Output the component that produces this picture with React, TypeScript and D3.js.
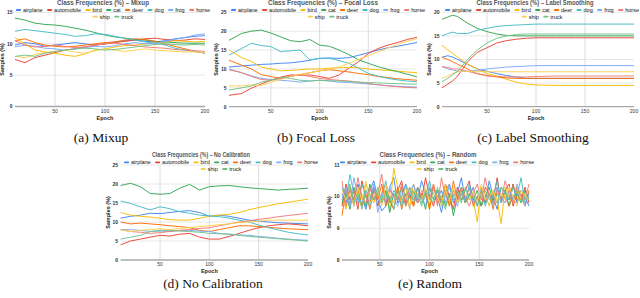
import React from "react";
import * as d3 from "d3";

const CLASSES = ["airplane", "automobile", "bird", "cat", "deer", "dog", "frog", "horse", "ship", "truck"];
const COLORS = ["#4285F4", "#EA4335", "#FBBC04", "#34A853", "#FF6D01", "#46BDC6", "#7BAAF7", "#F07B72", "#FCD04F", "#71C287"];
const X_TICKS = [50, 100, 150, 200];

// Mixup
const EPOCHS_MIXUP = [10, 20, 30, 40, 50, 60, 70, 80, 90, 100, 110, 120, 130, 140, 150, 160, 170, 180, 190, 200];
const MIXUP = [
  [9.8, 10.2, 10.0, 9.6, 9.8, 10.0, 10.2, 10.0, 9.8, 10.0, 10.3, 10.5, 10.6, 10.4, 10.3, 10.5, 10.8, 11.0, 11.2, 11.3],
  [7.5, 7.0, 7.8, 8.2, 8.6, 9.0, 9.2, 9.5, 9.8, 10.0, 10.2, 10.4, 10.6, 10.8, 10.9, 10.7, 10.5, 10.6, 10.8, 10.7],
  [11.0, 10.0, 9.0, 8.7, 8.5, 8.2, 8.0, 8.4, 9.0, 9.2, 9.5, 9.7, 9.8, 10.0, 10.2, 10.3, 10.5, 10.4, 10.3, 10.4],
  [14.1, 13.8, 13.3, 13.1, 13.0, 12.8, 12.5, 12.2, 11.8, 11.4, 11.1, 10.9, 10.7, 10.6, 10.4, 10.3, 10.2, 10.1, 10.1, 10.1],
  [10.5, 10.8, 10.2, 9.8, 9.6, 9.5, 9.6, 9.8, 10.0, 10.2, 10.3, 10.6, 10.8, 10.7, 10.4, 10.0, 9.6, 9.2, 8.8, 8.5],
  [12.0, 12.3, 12.1, 11.9, 11.7, 11.5, 11.2, 11.3, 11.6, 11.5, 11.2, 10.9, 10.6, 10.3, 10.1, 9.8, 9.3, 9.0, 8.8, 8.5],
  [9.5, 9.8, 9.6, 9.3, 9.2, 9.0, 9.2, 9.4, 9.6, 9.5, 9.7, 10.0, 10.2, 10.0, 10.1, 10.4, 10.7, 11.0, 11.4, 11.6],
  [10.5, 9.8, 9.5, 9.6, 9.8, 9.6, 9.4, 9.5, 9.8, 10.0, 10.1, 9.9, 9.7, 9.5, 9.4, 9.3, 9.1, 9.0, 8.9, 8.8],
  [8.0, 7.8, 8.3, 8.6, 8.8, 9.0, 8.7, 8.5, 8.9, 9.2, 9.0, 8.8, 9.0, 9.2, 9.0, 8.9, 8.8, 8.7, 8.7, 8.6],
  [8.0, 8.2, 8.0, 8.5, 8.8, 9.0, 9.2, 9.3, 9.2, 9.0, 9.1, 9.3, 9.5, 9.7, 9.9, 10.0, 9.9, 9.8, 9.9, 9.8],
];

// Focal Loss
const EPOCHS_FOCAL = [7, 20, 30, 40, 50, 60, 70, 80, 90, 100, 110, 120, 130, 140, 150, 160, 170, 180, 190, 200];
const FOCAL = [
  [10.5, 10.8, 11.0, 11.2, 11.3, 11.5, 11.6, 11.9, 12.3, 12.8, 12.9, 12.8, 13.0, 13.6, 14.3, 15.0, 15.6, 16.0, 16.5, 17.0],
  [3.0, 3.5, 4.9, 6.0, 7.0, 7.8, 8.4, 8.3, 8.4, 8.0, 7.5, 8.4, 10.2, 11.9, 14.1, 15.4, 16.3, 17.0, 17.8, 18.4],
  [15.0, 13.0, 12.0, 10.5, 10.0, 9.5, 9.6, 9.8, 10.0, 10.0, 10.2, 10.3, 10.4, 10.3, 10.0, 9.8, 9.6, 9.4, 9.2, 9.0],
  [17.6, 19.4, 20.0, 20.3, 19.5, 18.5, 17.5, 17.2, 17.8, 16.3, 16.0, 15.0, 13.8, 12.4, 11.5, 10.6, 9.9, 9.3, 8.6, 7.9],
  [12.3, 11.0, 10.0, 8.5, 8.0, 7.5, 8.0, 8.5, 9.0, 9.5, 9.8, 9.5, 9.2, 8.8, 8.5, 8.0, 7.7, 7.4, 7.2, 7.0],
  [13.7, 15.4, 16.8, 16.2, 15.9, 14.6, 14.8, 15.0, 12.4, 12.8, 12.8, 12.2, 11.5, 10.2, 8.8, 8.1, 7.5, 7.1, 6.8, 6.6],
  [10.0, 9.0, 8.2, 7.5, 7.2, 7.0, 6.8, 6.5, 6.8, 7.0, 6.8, 6.5, 6.4, 6.2, 6.0, 5.8, 5.6, 5.4, 5.3, 5.2],
  [9.8, 9.0, 8.0, 7.2, 7.0, 7.5, 8.0, 8.5, 8.0, 7.5, 7.2, 7.0, 6.8, 6.5, 6.2, 5.8, 5.5, 5.3, 5.1, 5.0],
  [5.5, 5.5, 5.8, 5.6, 6.5, 7.2, 8.0, 8.5, 9.0, 9.5, 10.0, 10.5, 11.5, 12.5, 13.5, 14.5, 15.5, 16.5, 17.3, 18.0],
  [4.4, 5.0, 5.5, 6.5, 7.0, 7.8, 7.5, 7.0, 6.8, 7.0, 6.9, 6.8, 6.7, 6.5, 6.4, 6.3, 6.2, 6.1, 6.0, 6.0],
];

// Label Smoothing
const EPOCHS_SMOOTH = [4, 10, 15, 20, 30, 40, 50, 60, 70, 80, 90, 100, 120, 140, 160, 180, 200];
const SMOOTH = [
  [10.5, 10.8, 10.5, 10.0, 9.0, 8.0, 7.5, 7.0, 6.6, 6.3, 6.0, 6.0, 6.0, 6.0, 6.0, 6.0, 6.0],
  [4.0, 4.8, 5.5, 6.5, 9.5, 11.5, 12.5, 13.5, 14.0, 14.3, 14.5, 14.6, 14.6, 14.6, 14.6, 14.6, 14.6],
  [13.0, 12.0, 11.3, 10.5, 9.0, 8.0, 7.0, 6.5, 5.8, 5.2, 4.8, 4.6, 4.5, 4.5, 4.5, 4.5, 4.5],
  [18.5, 19.0, 19.4, 19.1, 17.7, 16.6, 15.9, 15.4, 15.1, 15.0, 15.0, 15.0, 15.0, 15.0, 15.0, 15.0, 15.0],
  [10.5, 10.0, 9.5, 9.0, 8.0, 7.0, 6.6, 6.3, 6.1, 6.0, 6.0, 6.0, 6.0, 6.0, 6.0, 6.0, 6.0],
  [15.0, 15.5, 15.8, 15.5, 15.5, 16.2, 16.6, 17.0, 17.2, 17.3, 17.4, 17.5, 17.5, 17.5, 17.5, 17.5, 17.5],
  [8.5, 8.0, 7.8, 7.5, 7.5, 7.7, 8.0, 8.2, 8.4, 8.5, 8.6, 8.7, 8.7, 8.7, 8.7, 8.7, 8.7],
  [8.5, 8.3, 8.0, 8.0, 7.5, 7.0, 6.5, 6.4, 6.3, 6.3, 6.3, 6.4, 6.5, 6.5, 6.5, 6.5, 6.5],
  [6.0, 6.5, 7.0, 7.5, 7.5, 7.5, 7.4, 7.4, 7.4, 7.4, 7.4, 7.4, 7.4, 7.4, 7.4, 7.4, 7.4],
  [5.3, 6.0, 6.8, 7.5, 10.0, 12.0, 13.5, 14.5, 15.0, 15.3, 15.4, 15.4, 15.4, 15.4, 15.4, 15.4, 15.4],
];

// No Calibration
const EPOCHS_NOCAL = [10, 20, 30, 40, 50, 60, 70, 80, 90, 100, 110, 120, 130, 140, 150, 160, 170, 180, 190, 200];
const NOCAL = [
  [11.0, 11.5, 11.8, 12.3, 12.2, 12.5, 12.8, 13.0, 12.5, 11.5, 11.8, 11.5, 11.0, 10.5, 10.2, 10.0, 9.8, 9.7, 9.6, 9.5],
  [4.0, 5.0, 5.5, 6.0, 6.5, 6.3, 6.8, 7.0, 6.0, 5.5, 5.5, 6.2, 7.0, 7.8, 8.5, 9.0, 9.3, 9.5, 9.3, 9.0],
  [12.5, 11.8, 11.5, 11.3, 11.0, 10.6, 10.5, 10.5, 11.0, 11.5, 11.8, 12.0, 12.5, 13.2, 13.8, 14.3, 14.8, 15.2, 15.6, 16.0],
  [19.6, 20.2, 19.3, 17.5, 17.3, 17.5, 18.9, 19.9, 18.4, 19.3, 19.5, 19.6, 19.3, 19.0, 18.8, 18.6, 18.4, 18.6, 18.7, 18.9],
  [10.0, 9.5, 9.7, 9.5, 9.3, 9.0, 8.8, 8.5, 7.8, 7.5, 8.0, 8.5, 9.0, 9.0, 8.8, 8.6, 8.4, 8.2, 8.1, 8.0],
  [15.5, 14.9, 14.0, 13.2, 14.0, 13.5, 12.7, 12.3, 11.8, 11.6, 11.4, 11.0, 10.5, 10.0, 9.2, 8.5, 7.9, 7.3, 6.9, 6.6],
  [8.0, 8.0, 7.8, 7.5, 7.6, 7.5, 7.8, 7.8, 7.6, 7.5, 7.0, 6.8, 6.6, 6.5, 6.2, 6.0, 5.7, 5.5, 5.3, 5.2],
  [8.0, 7.5, 7.3, 7.0, 7.2, 7.5, 7.8, 8.0, 8.3, 8.5, 9.0, 9.5, 10.0, 10.3, 10.7, 11.0, 11.4, 11.7, 12.0, 12.3],
  [8.0, 7.5, 7.8, 8.0, 8.2, 8.0, 8.3, 8.5, 8.8, 9.0, 9.3, 9.5, 9.8, 10.0, 10.2, 10.5, 10.5, 10.5, 10.5, 10.5],
  [5.5, 6.0, 6.5, 7.5, 7.8, 7.8, 7.6, 7.5, 7.3, 7.0, 6.9, 6.8, 6.5, 6.2, 6.0, 5.8, 5.6, 5.4, 5.2, 5.0],
];

// Random
const EPOCHS_RANDOM = [12, 16, 20, 24, 28, 32, 36, 40, 44, 48, 52, 56, 60, 64, 68, 72, 76, 80, 84, 88, 92, 96, 100, 104, 108, 112, 116, 120, 124, 128, 132, 136, 140, 144, 148, 152, 156, 160, 164, 168, 172, 176, 180, 184, 188, 192, 196, 200];
const RANDOM = [
  [10.1, 9.8, 10.3, 9.7, 10.4, 10.0, 9.6, 10.2, 10.5, 9.9, 9.55, 9.7, 10.3, 10.6, 9.8, 10.0, 10.4, 9.6, 10.2, 9.9, 10.5, 10.1, 9.7, 10.3, 10.0, 9.5, 10.2, 10.4, 9.8, 10.1, 10.6, 9.9, 10.0, 10.3, 9.7, 10.2, 9.8, 10.5, 10.0, 9.6, 10.3, 10.1, 9.9, 10.4, 9.8, 10.2, 10.0, 9.7],
  [9.7, 10.4, 9.9, 10.2, 9.6, 10.5, 10.0, 9.8, 10.3, 9.7, 10.1, 10.4, 9.9, 9.6, 10.2, 10.5, 9.8, 10.1, 9.7, 10.3, 9.9, 10.6, 10.0, 9.7, 10.2, 9.8, 10.4, 10.0, 9.6, 10.3, 9.9, 10.2, 10.5, 9.8, 10.0, 9.7, 10.3, 10.1, 9.9, 10.6, 9.8, 10.2, 10.4, 9.7, 10.1, 9.9, 10.3, 9.8],
  [10.0, 9.6, 10.3, 9.9, 10.2, 9.7, 10.4, 10.1, 9.8, 10.2, 9.9, 10.2, 9.6, 10.9, 10.3, 9.8, 10.1, 9.7, 10.4, 10.0, 9.9, 10.2, 9.6, 10.3, 10.0, 9.8, 10.4, 9.7, 10.1, 9.9, 10.2, 9.8, 10.0, 9.9, 9.2, 10.3, 10.1, 9.7, 10.2, 9.9, 9.15, 10.3, 10.0, 9.8, 10.2, 9.9, 10.1, 10.0],
  [9.8, 10.1, 9.6, 10.3, 9.9, 10.0, 9.7, 10.4, 9.9, 10.1, 9.8, 10.2, 9.5, 10.1, 9.9, 10.3, 9.7, 10.0, 10.2, 9.8, 10.1, 9.6, 10.3, 9.9, 10.0, 10.2, 9.7, 10.1, 9.4, 10.0, 10.3, 9.8, 10.1, 9.9, 10.2, 9.7, 10.0, 10.3, 9.8, 10.1, 9.9, 10.2, 9.7, 10.0, 10.1, 9.8, 10.2, 9.9],
  [9.4, 10.2, 9.8, 10.0, 10.3, 9.7, 10.1, 9.6, 10.2, 9.9, 10.4, 9.7, 10.0, 9.8, 10.3, 9.6, 10.1, 10.0, 9.7, 10.3, 9.9, 10.1, 9.6, 10.4, 9.8, 10.0, 10.2, 9.7, 10.5, 9.9, 10.1, 9.8, 10.3, 9.7, 10.0, 10.2, 9.8, 10.1, 9.6, 10.3, 9.9, 10.0, 9.7, 10.4, 9.9, 10.1, 9.7, 10.2],
  [10.3, 9.9, 10.7, 10.1, 9.8, 10.4, 10.0, 9.7, 10.3, 10.1, 9.9, 10.5, 9.8, 10.2, 10.0, 9.7, 10.4, 10.1, 9.9, 10.3, 9.8, 10.0, 10.5, 9.9, 10.2, 9.7, 10.1, 10.3, 9.9, 10.0, 10.2, 9.8, 10.4, 10.0, 9.9, 10.3, 9.7, 10.1, 10.0, 10.5, 9.8, 10.2, 9.9, 10.3, 10.0, 10.6, 9.8, 10.1],
  [9.9, 10.3, 9.7, 10.6, 10.0, 9.8, 10.2, 9.9, 10.4, 9.5, 10.1, 9.8, 10.3, 10.0, 9.7, 10.2, 9.9, 10.1, 10.4, 9.8, 10.0, 9.7, 10.3, 10.1, 9.9, 10.2, 9.8, 10.4, 10.0, 9.7, 10.1, 9.9, 10.3, 9.8, 10.0, 10.2, 9.9, 10.1, 9.7, 10.3, 10.0, 9.8, 10.2, 9.9, 10.4, 10.0, 9.7, 10.1],
  [10.5, 9.7, 10.2, 9.9, 10.6, 10.0, 9.8, 10.3, 9.9, 10.1, 10.7, 9.8, 10.2, 10.0, 9.9, 10.4, 9.7, 10.3, 10.0, 9.8, 10.2, 10.1, 9.9, 10.4, 9.7, 10.6, 10.0, 9.9, 10.2, 9.8, 10.3, 10.0, 9.7, 10.1, 10.4, 9.9, 10.6, 10.0, 9.8, 10.2, 9.9, 10.5, 10.1, 9.8, 10.3, 10.0, 9.9, 10.4],
  [10.2, 9.9, 10.1, 9.7, 10.3, 9.9, 10.5, 9.8, 10.0, 10.2, 9.7, 10.4, 10.0, 9.8, 10.1, 9.9, 10.3, 9.6, 10.2, 10.0, 9.9, 10.3, 9.8, 10.1, 10.0, 9.7, 10.2, 9.9, 10.3, 9.8, 10.0, 10.1, 9.9, 10.2, 9.8, 10.4, 9.9, 10.0, 10.2, 9.8, 10.1, 9.9, 10.3, 10.0, 9.7, 10.2, 10.0, 9.9],
  [9.9, 10.0, 10.4, 9.8, 10.1, 9.6, 10.2, 10.0, 9.9, 10.3, 9.8, 10.1, 10.0, 9.6, 10.2, 9.9, 10.0, 10.3, 9.8, 10.1, 9.7, 10.2, 10.0, 9.8, 10.3, 9.9, 9.6, 10.1, 10.0, 10.2, 9.8, 10.3, 9.9, 10.0, 9.7, 10.1, 10.2, 9.9, 10.0, 9.8, 10.3, 10.1, 9.9, 10.0, 10.2, 9.8, 10.0, 10.1],
];

const PANELS = [
  { title: "Class Frequencies (%) \u2013 Mixup", caption: "(a) Mixup", epochs: EPOCHS_MIXUP, data: MIXUP, yTicks: [0, 5, 10, 15],
    x0: 15, x1: 205, yb: 106.5, yt: 12.5, titleCx: 103, titleY: 2.2, titleW: 92, legCx: 113, legY: 10, capCx: 101, capY: 142 },
  { title: "Class Frequencies (%) \u2013 Focal Loss", caption: "(b) Focal Loss", epochs: EPOCHS_FOCAL, data: FOCAL, yTicks: [0, 5, 10, 15, 20, 25],
    x0: 229, x1: 417, yb: 106.7, yt: 12.3, titleCx: 323, titleY: 2.2, titleW: 110, legCx: 328, legY: 10, capCx: 316, capY: 142 },
  { title: "Class Frequencies (%) \u2013 Label Smoothing", caption: "(c) Label Smoothing", epochs: EPOCHS_SMOOTH, data: SMOOTH, yTicks: [0, 5, 10, 15, 20],
    x0: 442, x1: 634, yb: 106.7, yt: 12.3, titleCx: 535, titleY: 2.2, titleW: 117, legCx: 542, legY: 10, capCx: 533, capY: 142 },
  { title: "Class Frequencies (%) \u2013 No Calibration", caption: "(d) No Calibration", epochs: EPOCHS_NOCAL, data: NOCAL, yTicks: [0, 5, 10, 15, 20, 25],
    x0: 120.6, x1: 308, yb: 260, yt: 165, titleCx: 201, titleY: 154.3, titleW: 98, legCx: 221, legY: 162.3, capCx: 213, capY: 288 },
  { title: "Class Frequencies (%) \u2013 Random", caption: "(e) Random", epochs: EPOCHS_RANDOM, data: RANDOM, yTicks: [8, 9, 10, 11],
    x0: 342, x1: 529, yb: 260, yt: 165, titleCx: 428, titleY: 154.3, titleW: 97, legCx: 437, legY: 162.3, capCx: 430, capY: 288 },
];

const SANS = "'Liberation Sans', Arial, sans-serif";
const SERIF = "'Liberation Serif', 'Times New Roman', Times, serif";
const LEG_FONT = 5.5;

let ctx: CanvasRenderingContext2D | null = null;
function textW(s: string, size: number) {
  if (!ctx) ctx = document.createElement("canvas").getContext("2d");
  if (!ctx) return s.length * size * 0.55;
  ctx.font = `${size}px 'Liberation Sans'`;
  return ctx.measureText(s).width;
}

function Legend({ cx, y }: { cx: number; y: number }) {
  const rows = [[0, 1, 2, 3, 4, 5, 6, 7], [8, 9]];
  const mk = 5, gap = 2, sp = 4.5;
  return (
    <g>
      {rows.map((row, ri) => {
        const widths = row.map((i) => mk + gap + textW(CLASSES[i], LEG_FONT));
        const total = widths.reduce((a, b) => a + b, 0) + sp * (row.length - 1);
        let cur = cx - total / 2;
        const ry = y + ri * 6.7;
        return row.map((i, k) => {
          const x = cur;
          cur += widths[k] + sp;
          return (
            <g key={`${ri}-${i}`}>
              <line x1={x + 0.8} x2={x + mk - 0.8} y1={ry} y2={ry} stroke={COLORS[i]} strokeWidth={1.8} strokeLinecap="round" />
              <text x={x + mk + gap} y={ry + 1.9} fontSize={LEG_FONT} fill="#111" fontFamily={SANS}>{CLASSES[i]}</text>
            </g>
          );
        });
      })}
    </g>
  );
}

function Panel({ p }: { p: (typeof PANELS)[number] }) {
  const x = d3.scaleLinear().domain([p.epochs[0], 200]).range([p.x0, p.x1]);
  const yMin = p.yTicks[0];
  const yMax = p.yTicks[p.yTicks.length - 1];
  const y = d3.scaleLinear().domain([yMin, yMax]).range([p.yb, p.yt]);
  const line = d3.line<[number, number]>().x((d) => x(d[0])).y((d) => y(d[1]));
  const plotMidY = (p.yb + p.yt) / 2;
  return (
    <g>
      {p.yTicks.slice(1).map((t) => (
        <line key={`h${t}`} x1={p.x0} x2={p.x1} y1={y(t)} y2={y(t)} stroke="#e2e2e2" strokeWidth={0.8} />
      ))}
      {[50, 100, 150].map((t) => (
        <line key={`v${t}`} x1={x(t)} x2={x(t)} y1={p.yt} y2={p.yb} stroke="#d4d4d4" strokeWidth={0.8} />
      ))}
      {p.data.map((vals, si) => {
        const pts: [number, number][] = vals
          .map((v, i) => [p.epochs[i], v] as [number, number])
          .filter((d) => d[0] !== undefined);
        return <path key={si} d={line(pts) || ""} fill="none" stroke={COLORS[si]} strokeWidth={0.95} strokeLinejoin="round" />;
      })}
      <line x1={p.x0} x2={p.x1} y1={p.yb} y2={p.yb} stroke="#a8a8a8" strokeWidth={1.3} />
      {p.yTicks.map((t) => (
        <text key={`yt${t}`} x={p.x0 - 2.5} y={y(t) + 1.8} fontSize={5} textAnchor="end" fill="#333" fontWeight="bold" fontFamily={SANS}>{t}</text>
      ))}
      {X_TICKS.map((t) => (
        <text key={`xt${t}`} x={x(t)} y={p.yb + 6.3} fontSize={5} textAnchor="middle" fill="#333" fontFamily={SANS}>{t}</text>
      ))}
      <text x={(x(100))} y={p.yb + 13} fontSize={5.5} textAnchor="middle" fill="#222" fontWeight="bold" fontFamily={SANS}>Epoch</text>
      <text transform={`translate(${p.x0 - 11},${plotMidY}) rotate(-90)`} fontSize={5.5} textAnchor="middle" fill="#222" fontWeight="bold" fontFamily={SANS}>Samples (%)</text>
      <text x={p.titleCx} y={p.titleY + 2.4} fontSize={7} textAnchor="middle" fill="#555" fontWeight="bold" fontFamily={SANS}
        textLength={p.titleW} lengthAdjust="spacingAndGlyphs">{p.title}</text>
      <Legend cx={p.legCx} y={p.legY} />
      <text x={p.capCx} y={p.capY} fontSize={13.5} textAnchor="middle" fill="#111" fontFamily={SERIF}>{p.caption}</text>
    </g>
  );
}

export default function App() {
  return (
    <svg width={640} height={298} viewBox="0 0 640 298" style={{ position: "absolute", left: 0, top: 0, display: "block", background: "#fff" }}>
      <rect width={640} height={298} fill="#fff" />
      {PANELS.map((p, i) => (
        <Panel key={i} p={p} />
      ))}
    </svg>
  );
}
